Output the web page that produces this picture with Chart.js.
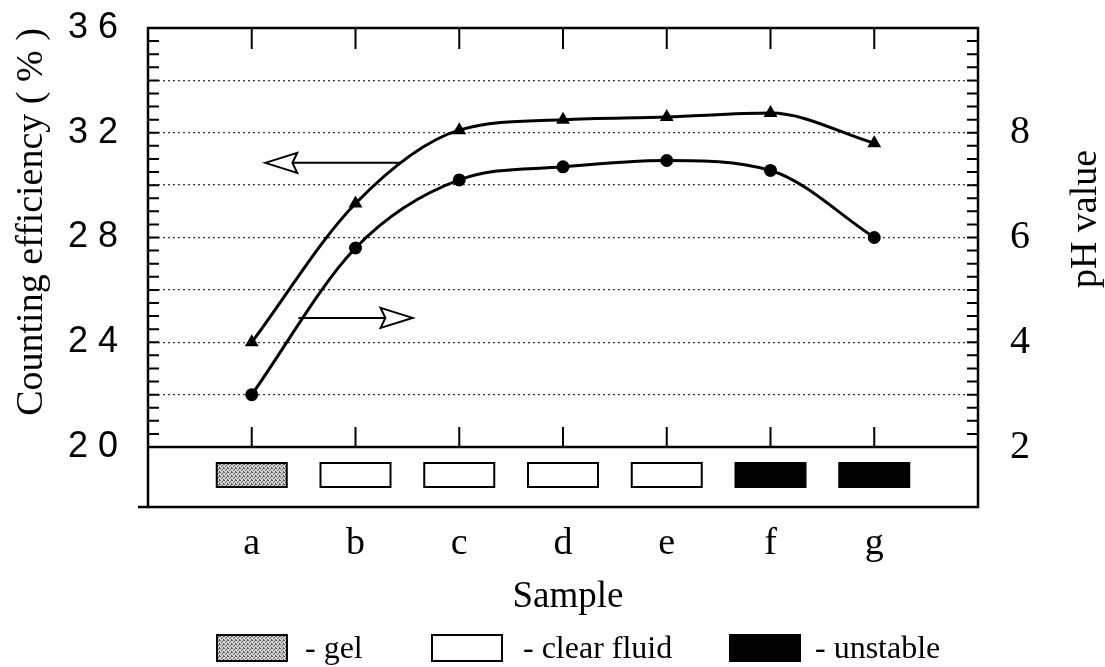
<!DOCTYPE html>
<html>
<head>
<meta charset="utf-8">
<script src="https://cdn.jsdelivr.net/npm/chart.js@4.4.0/dist/chart.umd.min.js"></script>
<style>
  html, body { margin: 0; padding: 0; background: #fff; }
  #chart { display: block; }
</style>
</head>
<body>
<canvas id="chart" width="1105" height="667"></canvas>
<script>
const samples = ['a', 'b', 'c', 'd', 'e', 'f', 'g'];
const efficiency = [24.0, 29.3, 32.1, 32.5, 32.6, 32.75, 31.6];
const phValues = [3.0, 5.8, 7.1, 7.35, 7.47, 7.28, 6.0];
const sampleState = ['gel', 'clear', 'clear', 'clear', 'clear', 'unstable', 'unstable'];
const efficiencyTicks = [20, 24, 28, 32, 36];
const phTicks = [2, 4, 6, 8];
const legendStates = ['gel', 'clear', 'unstable'];
const legendLabels = ['- gel', '- clear fluid', '- unstable'];

const serif = '"Liberation Serif", "Times New Roman", serif';
const sans = '"Liberation Sans", Arial, sans-serif';

// arrows telling which curve belongs to which axis (in axis units)
const arrowToLeft = { from: 1.43, to: 0.13, value: 30.85 };
const arrowToRight = { from: 0.45, to: 1.55, value: 24.93 };

function gelPattern(ctx) {
    const c = document.createElement('canvas');
    c.width = 4; c.height = 4;
    const p = c.getContext('2d');
    p.fillStyle = '#d2d2d2';
    p.fillRect(0, 0, 4, 4);
    p.fillStyle = '#5a5a5a';
    [[0, 0], [2, 1], [1, 2], [3, 3], [3, 0]].forEach(([x, y]) => p.fillRect(x, y, 1, 1));
    return ctx.createPattern(c, 'repeat');
}

function stateBox(ctx, state, x, y, w, h) {
    ctx.save();
    ctx.lineWidth = 2;
    ctx.strokeStyle = '#000';
    if (state === 'gel') ctx.fillStyle = gelPattern(ctx);
    else if (state === 'unstable') ctx.fillStyle = '#000';
    else ctx.fillStyle = '#fff';
    ctx.fillRect(x, y, w, h);
    ctx.strokeRect(x, y, w, h);
    ctx.restore();
}

function openArrow(ctx, x0, x1, y) {
    const dir = Math.sign(x1 - x0);
    const headLen = 32, half = 10;
    ctx.save();
    ctx.lineWidth = 2;
    ctx.strokeStyle = '#000';
    ctx.beginPath();
    ctx.moveTo(x0, y);
    ctx.lineTo(x1 - dir * headLen * 0.85, y);
    ctx.stroke();
    ctx.beginPath();
    ctx.moveTo(x1, y);
    ctx.lineTo(x1 - dir * headLen, y - half);
    ctx.lineTo(x1 - dir * headLen * 0.85, y);
    ctx.lineTo(x1 - dir * headLen, y + half);
    ctx.closePath();
    ctx.fillStyle = '#fff';
    ctx.fill();
    ctx.stroke();
    ctx.restore();
}

// fixed axis boxes so the plot frame lands where it should
function fixBox(size) {
    return s => {
        if (s.isHorizontal()) s.height = size; else s.width = size;
        s.paddingTop = 0;
        s.paddingBottom = 0;
        s.paddingLeft = 0;
        s.paddingRight = 0;
    };
}

const figureExtras = {
    id: 'figureExtras',
    afterDraw(chart) {
        const { ctx, chartArea: a, scales: { x, y, y2 } } = chart;
        const boxBottom = a.bottom + 60;
        ctx.save();
        ctx.strokeStyle = '#000';
        ctx.fillStyle = '#000';

        // frame around plot and the state strip below it
        ctx.lineWidth = 2.5;
        ctx.strokeRect(a.left, a.top, a.right - a.left, boxBottom - a.top);
        ctx.beginPath();
        ctx.moveTo(a.left, a.bottom);
        ctx.lineTo(a.right, a.bottom);
        ctx.moveTo(a.left - 10, boxBottom);
        ctx.lineTo(a.left, boxBottom);
        ctx.stroke();

        // sample ticks, top and bottom, pointing inward
        ctx.lineWidth = 2;
        ctx.beginPath();
        samples.forEach((s, i) => {
            const px = x.getPixelForValue(i);
            ctx.moveTo(px, a.top);
            ctx.lineTo(px, a.top + 21);
            ctx.moveTo(px, a.bottom);
            ctx.lineTo(px, a.bottom - 20);
        });
        // minor ticks on both vertical axes
        for (let v = 20; v <= 36; v += 0.5) {
            const py = y.getPixelForValue(v);
            ctx.moveTo(a.left, py);
            ctx.lineTo(a.left + 11, py);
        }
        for (let v = 2; v <= 10; v += 0.25) {
            const py = y2.getPixelForValue(v);
            ctx.moveTo(a.right, py);
            ctx.lineTo(a.right - 11, py);
        }
        ctx.stroke();

        // sample state boxes
        sampleState.forEach((st, i) => {
            const px = x.getPixelForValue(i);
            stateBox(ctx, st, px - 35, a.bottom + 16, 70, 24);
        });

        openArrow(ctx, x.getPixelForValue(arrowToLeft.from), x.getPixelForValue(arrowToLeft.to), y.getPixelForValue(arrowToLeft.value));
        openArrow(ctx, x.getPixelForValue(arrowToRight.from), x.getPixelForValue(arrowToRight.to), y.getPixelForValue(arrowToRight.value));

        // left tick labels (wide spaced sans digits)
        ctx.font = '36px ' + sans;
        ctx.letterSpacing = '10px';
        ctx.textAlign = 'right';
        ctx.textBaseline = 'middle';
        efficiencyTicks.forEach(v => {
            ctx.fillText(String(v), 128, y.getPixelForValue(v));
        });
        ctx.letterSpacing = '0px';

        // axis titles
        ctx.font = '38px ' + serif;
        ctx.textAlign = 'center';
        ctx.save();
        ctx.translate(32, 222);
        ctx.rotate(-Math.PI / 2);
        ctx.fillText('Counting efficiency ( % )', 0, 0);
        ctx.restore();
        ctx.save();
        ctx.translate(1086, 219);
        ctx.rotate(-Math.PI / 2);
        ctx.fillText('pH value', 0, 0);
        ctx.restore();

        ctx.font = '37px ' + serif;
        ctx.textBaseline = 'alphabetic';
        ctx.fillText('Sample', 568, 607);

        // legend
        const boxX = [217, 432, 730];
        const textX = [305, 523, 815];
        ctx.font = '32px ' + serif;
        ctx.textAlign = 'left';
        legendStates.forEach((st, i) => {
            stateBox(ctx, st, boxX[i], 635, 70, 26);
            ctx.fillStyle = '#000';
            ctx.fillText(legendLabels[i], textX[i], 658);
        });
        ctx.restore();
    }
};

new Chart(document.getElementById('chart'), {
    type: 'line',
    data: {
        datasets: [{
            label: 'Counting efficiency',
            data: samples.map((s, i) => ({ x: i, y: efficiency[i] })),
            yAxisID: 'y',
            borderColor: '#000',
            backgroundColor: '#000',
            borderWidth: 3,
            pointStyle: 'triangle',
            pointRadius: 5,
            cubicInterpolationMode: 'monotone'
        }, {
            label: 'pH value',
            data: samples.map((s, i) => ({ x: i, y: phValues[i] })),
            yAxisID: 'y2',
            borderColor: '#000',
            backgroundColor: '#000',
            borderWidth: 3,
            pointStyle: 'circle',
            pointRadius: 5,
            cubicInterpolationMode: 'monotone'
        }]
    },
    options: {
        responsive: false,
        animation: false,
        devicePixelRatio: 1,
        layout: { padding: { top: 28, left: 0, right: 0, bottom: 0 } },
        plugins: {
            legend: { display: false },
            tooltip: { enabled: false }
        },
        scales: {
            x: {
                type: 'linear',
                position: 'bottom',
                min: -1,
                max: 7,
                afterFit: fixBox(220),
                grid: { display: false, drawTicks: false },
                border: { display: false },
                ticks: {
                    stepSize: 1,
                    autoSkip: false,
                    maxRotation: 0,
                    padding: 74,
                    color: '#000',
                    font: { family: serif, size: 38 },
                    callback: v => samples[v] !== undefined ? samples[v] : ''
                }
            },
            y: {
                position: 'left',
                min: 20,
                max: 36,
                afterFit: fixBox(148),
                ticks: { stepSize: 2, display: false },
                grid: {
                    drawTicks: false,
                    lineWidth: 1.3,
                    color: c => (c.tick && c.tick.value > 20 && c.tick.value < 36) ? '#333' : 'rgba(0,0,0,0)'
                },
                border: { display: false, dash: [2, 3] }
            },
            y2: {
                position: 'right',
                min: 2,
                max: 10,
                afterFit: fixBox(127),
                grid: { drawOnChartArea: false, drawTicks: false },
                border: { display: false },
                ticks: {
                    stepSize: 2,
                    autoSkip: false,
                    padding: 32,
                    color: '#000',
                    font: { family: serif, size: 40 },
                    callback: v => phTicks.includes(v) ? v : ''
                }
            }
        }
    },
    plugins: [figureExtras]
});
</script>
</body>
</html>
